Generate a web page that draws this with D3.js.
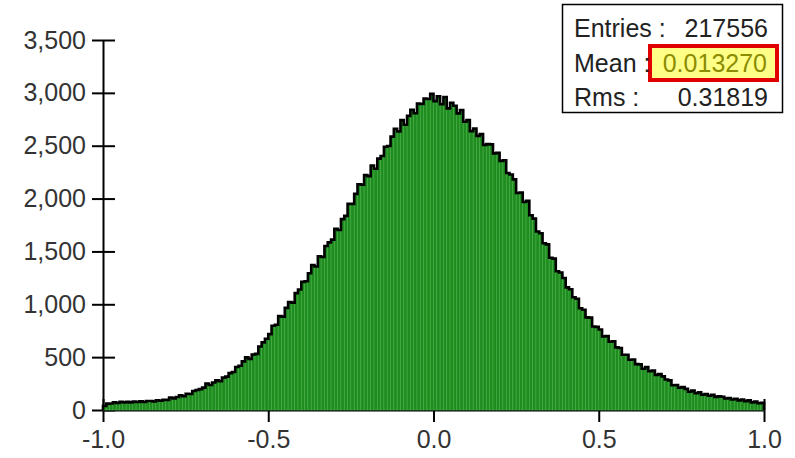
<!DOCTYPE html>
<html>
<head>
<meta charset="utf-8">
<script src="https://cdn.jsdelivr.net/npm/d3@7"></script>
<style>
  html, body { margin: 0; padding: 0; background: #fff; }
  svg { display: block; }
  text { font-family: "Liberation Sans", Arial, sans-serif; }
</style>
</head>
<body>
<svg id="chart" width="795" height="458"></svg>
<script>
// Histogram range and binning: 200 bins over [-1, 1]
const xRange = [-1, 1];
const binCount = 200;

// Bin contents, left to right
const counts = [
  38, 60, 62, 73, 66, 78, 72, 77, 72, 81,
  75, 82, 76, 85, 85, 80, 92, 88, 97, 96,
  118, 110, 123, 140, 130, 154, 151, 180, 189, 197,
  212, 250, 237, 260, 280, 273, 306, 316, 349, 359,
  407, 418, 460, 498, 484, 525, 531, 600, 640, 674,
  718, 797, 807, 888, 883, 966, 1022, 1016, 1106, 1140,
  1212, 1218, 1294, 1372, 1358, 1454, 1448, 1552, 1586, 1612,
  1714, 1703, 1806, 1836, 1950, 1950, 2044, 2136, 2132, 2222,
  2212, 2313, 2282, 2378, 2402, 2490, 2497, 2586, 2660, 2634,
  2742, 2698, 2782, 2840, 2807, 2898, 2894, 2946, 2942, 2990,
  2922, 2968, 2892, 2961, 2853, 2907, 2878, 2806, 2838, 2727,
  2742, 2638, 2662, 2593, 2610, 2508, 2516, 2513, 2428, 2433,
  2357, 2363, 2242, 2228, 2182, 2053, 2057, 1968, 1978, 1842,
  1810, 1688, 1672, 1578, 1567, 1440, 1432, 1313, 1300, 1248,
  1160, 1142, 1066, 1053, 962, 948, 876, 874, 790, 786,
  761, 696, 700, 646, 650, 592, 586, 522, 522, 476,
  478, 434, 432, 390, 406, 366, 372, 332, 340, 318,
  288, 280, 234, 237, 212, 216, 200, 173, 183, 158,
  167, 145, 152, 135, 144, 124, 129, 125, 109, 113,
  100, 107, 91, 98, 84, 91, 72, 79, 64, 68
];

// Tick values for both axes
const yTicks = [0, 500, 1000, 1500, 2000, 2500, 3000, 3500];
const xTicks = [-1.0, -0.5, 0.0, 0.5, 1.0];

// Statistics box rows
const statLabels = ["Entries :", "Mean :", "Rms :"];
const statValues = ["217556", "0.013270", "0.31819"];

const svg = d3.select("#chart");

const x = d3.scaleLinear().domain(xRange).range([103, 764]);
const y = d3.scaleLinear().domain([0, 3500]).range([410, 40]);

const binWidth = (xRange[1] - xRange[0]) / binCount;
const bins = counts.map((c, i) => ({
  x0: xRange[0] + i * binWidth,
  x1: xRange[0] + (i + 1) * binWidth,
  n: c
}));

const labelFont = "25px";

// Axes (drawn first so the bars sit over the inner halves of the ticks)
const yAxis = d3.axisLeft(y)
  .tickValues(yTicks)
  .tickFormat(d3.format(","))
  .tickSizeInner(11)
  .tickSizeOuter(0)
  .tickPadding(6);

const gy = svg.append("g")
  .attr("transform", `translate(${x(xRange[0])},0)`)
  .call(yAxis);
gy.selectAll(".tick line").attr("x1", 12);

const xAxis = d3.axisBottom(x)
  .tickValues(xTicks)
  .tickFormat(d => d.toFixed(1))
  .tickSizeInner(12)
  .tickSizeOuter(0)
  .tickPadding(8);

const gx = svg.append("g")
  .attr("transform", `translate(0,${y(0)})`)
  .call(xAxis);
gx.selectAll(".tick line").attr("y1", -11);

[gx, gy].forEach(g => {
  g.selectAll("path.domain").attr("stroke", "#000").attr("stroke-width", 2);
  g.selectAll(".tick line").attr("stroke", "#000").attr("stroke-width", 2);
  g.selectAll(".tick text")
    .attr("fill", "#333")
    .style("font-size", labelFont)
    .style("font-family", "'Liberation Sans', Arial, sans-serif");
});

// Bars
svg.append("g")
  .selectAll("rect")
  .data(bins)
  .join("rect")
  .attr("x", d => x(d.x0))
  .attr("width", d => x(d.x1) - x(d.x0))
  .attr("y", d => y(d.n))
  .attr("height", d => y(0) - y(d.n))
  .attr("fill", "#1f8c1f")
  .attr("stroke", "#46ad46")
  .attr("stroke-width", 0.6);

// Step outline along the top of the bars
const pts = [[x(xRange[0]), y(0)]];
bins.forEach(d => {
  pts.push([x(d.x0), y(d.n)]);
  pts.push([x(d.x1), y(d.n)]);
});
pts.push([x(xRange[1]), y(0)]);

svg.append("path")
  .attr("d", d3.line()(pts))
  .attr("fill", "none")
  .attr("stroke", "#000")
  .attr("stroke-width", 2.6)
  .attr("stroke-linejoin", "miter");

// Statistics box
const box = svg.append("g");
box.append("rect")
  .attr("x", 562.5).attr("y", 4.5)
  .attr("width", 220).attr("height", 108)
  .attr("fill", "#fff").attr("stroke", "#000").attr("stroke-width", 1.5);

const rowY = [37, 72, 106];

// Highlight behind the mean value
box.append("rect")
  .attr("x", 650).attr("y", 46)
  .attr("width", 127).attr("height", 34)
  .attr("fill", "#ffff88")
  .attr("stroke", "#e00000").attr("stroke-width", 4);

box.selectAll("text.lab")
  .data(statLabels)
  .join("text")
  .attr("class", "lab")
  .attr("x", 574)
  .attr("y", (d, i) => rowY[i])
  .attr("fill", "#222")
  .style("font-size", labelFont)
  .text(d => d);

box.selectAll("text.val")
  .data(statValues)
  .join("text")
  .attr("class", "val")
  .attr("x", (d, i) => i === 1 ? 767 : 768)
  .attr("y", (d, i) => rowY[i])
  .attr("text-anchor", "end")
  .attr("fill", (d, i) => i === 1 ? "#8c8c00" : "#222")
  .style("font-size", labelFont)
  .text(d => d);
</script>
</body>
</html>
